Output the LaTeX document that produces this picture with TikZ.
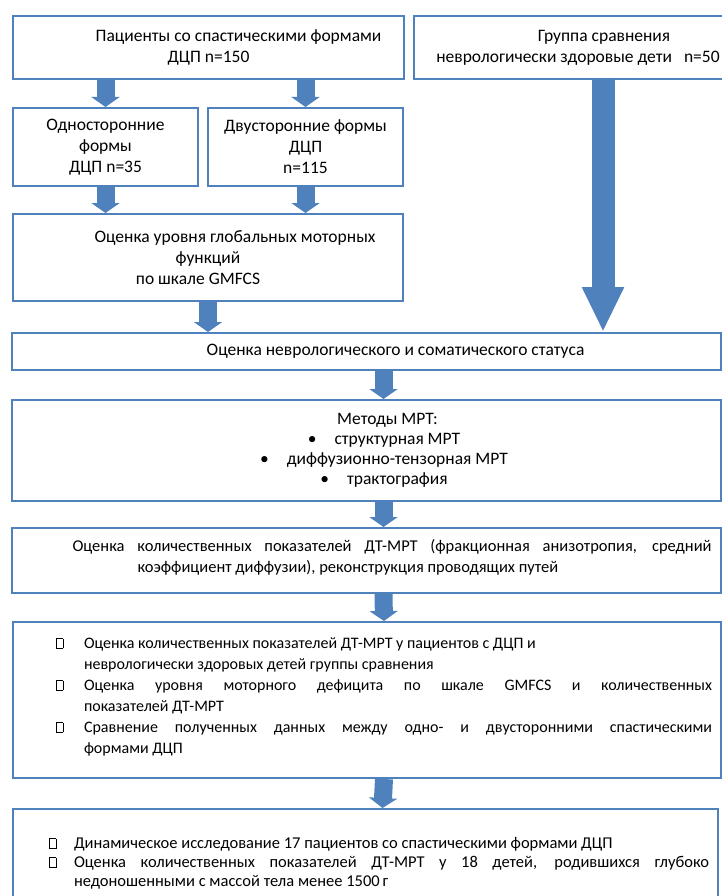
\documentclass[tikz,border=0pt]{standalone}
\usepackage{fontspec}
\setmainfont{Carlito}
\usetikzlibrary{arrows.meta}
\definecolor{cframe}{RGB}{79,129,189}
\definecolor{cflow}{RGB}{79,129,189}
\newcommand{\sqbox}{{\setlength{\fboxsep}{0pt}\setlength{\fboxrule}{0.7pt}\fbox{\rule{0pt}{9pt}\hspace{6pt}}}}
\newcommand{\sqitem}[2]{\par\noindent\hangindent=#2\hangafter=1\hspace*{#1}\makebox[\dimexpr#2-#1\relax][l]{\sqbox}}
\tikzset{
  box/.style={draw=cframe,line width=2pt,anchor=north west,inner sep=0pt,align=center,
    font=\fontsize{17.5}{21}\selectfont},
  listbox/.style={box,inner xsep=9pt,align=justify},
  smallarrow/.style={cflow,line width=18pt,-{Triangle[width=28pt,length=10pt]}},
  bigarrow/.style={cflow,line width=23pt,-{Triangle[width=39pt,length=45pt]}}
}

\begin{document}
\begin{tikzpicture}[x=1pt,y=-1pt]
  \useasboundingbox (0,0) rectangle (722,896);
  % upper part
  \node[box,minimum width=391pt,minimum height=63pt] (patients) at (12,15)
    {\hspace*{60pt}Пациенты со спастическими формами\\ДЦП n=150};
  \node[box,minimum width=320pt,minimum height=63pt] (control) at (413,15)
    {\hspace*{60pt}Группа сравнения\\\hspace*{8pt}неврологически здоровые дети\hspace{8pt} n=50};
  \node[box,minimum width=185pt,minimum height=78pt] (unilat) at (12,107)
    {Односторонние\\формы\\ДЦП n=35};
  \node[box,minimum width=195pt,minimum height=78pt] (bilat) at (207,107)
    {Двусторонние формы\\ДЦП\\n=115};
  \node[box,minimum width=390pt,minimum height=87pt] (gmfcs) at (12,213)
    {\hspace*{54pt}Оценка уровня глобальных моторных\\функций\\по шкале GMFCS\hspace*{20pt}};
  \coordinate (ctrlout) at (603,78);
  % lower part
  \node[box,minimum width=709pt,minimum height=37pt] (status) at (11,332)
    {\hspace*{58pt}Оценка неврологического и соматического статуса};
  \node[box,minimum width=709pt,minimum height=101pt,font=\fontsize{17.5}{20}\selectfont] (mri) at (11,399)
    {\hspace*{42pt}Методы МРТ:\\
     \hspace*{35pt}\textbullet\hspace{18pt}структурная МРТ\\
     \hspace*{35pt}\textbullet\hspace{18pt}диффузионно-тензорная МРТ\\
     \hspace*{35pt}\textbullet\hspace{18pt}трактография};
  \node[listbox,minimum width=709pt,minimum height=65pt,text width=690pt,
        font=\fontsize{16.5}{21}\selectfont] (dti) at (11,527)
    {\noindent\hspace*{51pt}Оценка количественных показателей ДТ-МРТ (фракционная анизотропия, средний\linebreak
     \hspace*{116pt}коэффициент диффузии), реконструкция проводящих путей\rule[-10pt]{0pt}{10pt}};
  \node[listbox,minimum width=708pt,minimum height=156pt,text width=690pt,
        font=\fontsize{16}{21}\selectfont] (analysis) at (12,621)
    {\baselineskip=21pt
     \sqitem{34pt}{62pt}Оценка количественных показателей ДТ-МРТ у пациентов с ДЦП и\newline
       неврологически здоровых детей группы сравнения
     \sqitem{34pt}{62pt}Оценка уровня моторного дефицита по шкале GMFCS и количественных\linebreak
       показателей ДТ-МРТ
     \sqitem{34pt}{62pt}Сравнение полученных данных между одно- и двусторонними спастическими\linebreak
       формами ДЦП\rule[-20pt]{0pt}{20pt}\par};
  \node[listbox,minimum width=705pt,minimum height=100pt,text width=687pt,
        font=\fontsize{16.5}{19}\selectfont] (followup) at (12,808)
    {\baselineskip=19pt
     \sqitem{27pt}{52pt}Динамическое исследование 17 пациентов со спастическими формами ДЦП
     \sqitem{27pt}{52pt}Оценка количественных показателей ДТ-МРТ у 18 детей, родившихся глубоко\linebreak
       недоношенными с массой тела менее 1500\,г\par};
  % arrows
  \draw[smallarrow] (unilat.north |- patients.south) -- (unilat.north);
  \draw[smallarrow] (bilat.north |- patients.south) -- (bilat.north);
  \draw[smallarrow] (unilat.south) -- (unilat.south |- gmfcs.north);
  \draw[smallarrow] (bilat.south) -- (bilat.south |- gmfcs.north);
  \draw[smallarrow] (gmfcs.south) -- (gmfcs.south |- status.north);
  \draw[bigarrow] (ctrlout) -- (ctrlout |- status.north);
  \draw[smallarrow] ([xshift=17pt]status.south) -- ([xshift=17pt]mri.north);
  \draw[smallarrow] ([xshift=17pt]mri.south) -- ([xshift=17pt]dti.north);
  \draw[smallarrow] ([xshift=17pt]dti.south) -- ([xshift=17pt]analysis.north);
  \draw[smallarrow] ([xshift=17pt]analysis.south) -- ([xshift=17pt]followup.north);
\end{tikzpicture}
\end{document}
